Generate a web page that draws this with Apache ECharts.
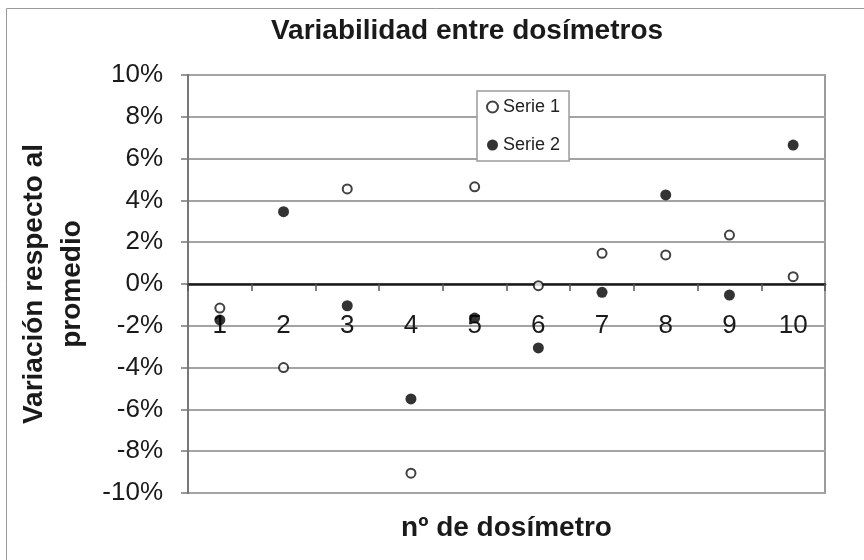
<!DOCTYPE html>
<html>
<head>
<meta charset="utf-8">
<style>
  html, body { margin: 0; padding: 0; background: #fff; }
  #chart { width: 864px; height: 560px; }
</style>
<script src="https://cdn.jsdelivr.net/npm/echarts@6/dist/echarts.min.js"></script>
</head>
<body>
<div id="chart"></div>
<script>
// Dosimeter numbers along the horizontal axis
const dosimetros = ['1', '2', '3', '4', '5', '6', '7', '8', '9', '10'];

// Deviation from the mean, in percent
const serie1 = [-1.15, -4.0, 4.55, -9.05, 4.65, -0.08, 1.47, 1.39, 2.34, 0.35];
const serie2 = [-1.72, 3.46, -1.04, -5.5, -1.63, -3.06, -0.4, 4.26, -0.53, 6.65];

const FONT = '"Liberation Sans", Arial, sans-serif';

// Plot area edges and the pixel row of the 0 % line
const GRID_TOP = 75, GRID_BOTTOM_PX = 493;
const ZERO_ROW = (GRID_TOP + GRID_BOTTOM_PX) / 2;

const chart = echarts.init(document.getElementById('chart'), null, { renderer: 'canvas' });

chart.setOption({
  backgroundColor: '#ffffff',
  animation: false,
  title: {
    text: 'Variabilidad entre dosímetros',
    left: 462,
    top: 12,
    textAlign: 'center',
    textStyle: { fontFamily: FONT, fontSize: 28, fontWeight: 'bold', color: '#1a1a1a' }
  },
  graphic: [{
    type: 'rect',
    shape: { x: 6.5, y: 8.5, width: 900, height: 600 },
    style: { fill: 'none', stroke: '#9a9a9a', lineWidth: 1 },
    silent: true,
    z: -1
  }],
  legend: {
    orient: 'vertical',
    left: 477,
    top: 91,
    padding: [7, 9, 7, 9],
    itemGap: 20,
    itemWidth: 11,
    itemHeight: 11,
    backgroundColor: '#ffffff',
    borderColor: '#9a9a9a',
    borderWidth: 1.5,
    textStyle: { fontFamily: FONT, fontSize: 18, color: '#222' },
    data: ['Serie 1', 'Serie 2']
  },
  grid: {
    left: 188,
    right: 39,
    top: GRID_TOP,
    bottom: 560 - GRID_BOTTOM_PX,
    outerBoundsMode: 'none',
    containLabel: false,
    show: true,
    borderColor: '#9a9a9a',
    borderWidth: 2,
    backgroundColor: 'transparent'
  },
  xAxis: {
    type: 'category',
    data: dosimetros,
    // the category axis runs along the 0 % line
    offset: -(GRID_BOTTOM_PX - ZERO_ROW),
    name: 'nº de dosímetro',
    nameLocation: 'middle',
    nameGap: 230,
    nameTextStyle: { fontFamily: FONT, fontSize: 28, fontWeight: 'bold', color: '#1a1a1a' },
    axisLine: { onZero: false, lineStyle: { color: '#1a1a1a', width: 2.5 } },
    axisTick: { show: true, length: 7, lineStyle: { color: '#555', width: 1.5 } },
    axisLabel: { margin: 29, fontFamily: FONT, fontSize: 26, color: '#1a1a1a' },
    splitLine: { show: false }
  },
  yAxis: {
    type: 'value',
    min: -10,
    max: 10,
    interval: 2,
    name: 'Variación respecto al\npromedio',
    nameLocation: 'middle',
    nameGap: 96,
    nameRotate: 90,
    nameTextStyle: { fontFamily: FONT, fontSize: 28, fontWeight: 'bold', color: '#1a1a1a', lineHeight: 38 },
    axisLine: { show: true, lineStyle: { color: '#777', width: 2 } },
    axisTick: { show: true, length: 7, lineStyle: { color: '#777', width: 1.5 } },
    axisLabel: {
      margin: 25, fontFamily: FONT, fontSize: 26, color: '#1a1a1a',
      showMinLabel: true, showMaxLabel: true, hideOverlap: false,
      formatter: '{value}%'
    },
    splitLine: { show: true, lineStyle: { color: '#a3a3a3', width: 2 } }
  },
  series: [
    {
      name: 'Serie 1',
      type: 'scatter',
      data: serie1,
      symbol: 'circle',
      symbolSize: 9,
      itemStyle: { color: '#ffffff', borderColor: '#111', borderWidth: 2 },
      z: 3
    },
    {
      name: 'Serie 2',
      type: 'scatter',
      data: serie2,
      symbol: 'circle',
      symbolSize: 11,
      itemStyle: { color: '#000000' },
      z: 4
    }
  ]
});
</script>
</body>
</html>
